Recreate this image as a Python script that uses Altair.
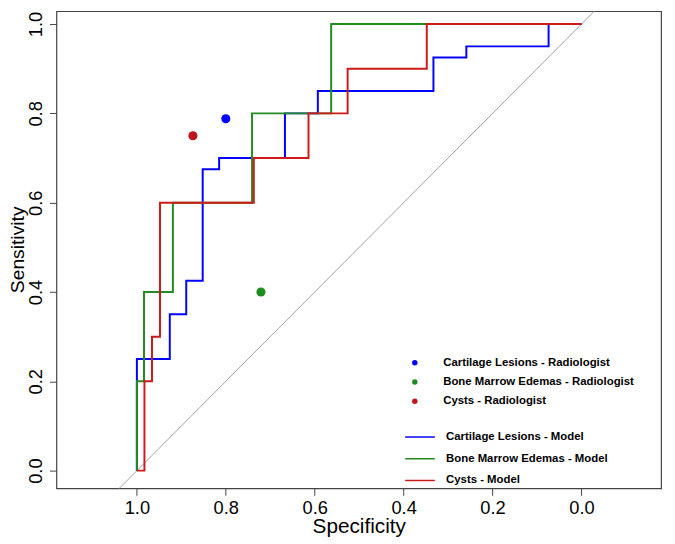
import altair as alt
import pandas as pd

# ---- data ----
series_names = ["Cartilage Lesions", "Bone Marrow Edemas", "Cysts"]

cart_spec = [1.0, 1.0, 0.926, 0.926, 0.889, 0.889, 0.852, 0.852, 0.815, 0.815,
             0.667, 0.667, 0.593, 0.593, 0.333, 0.333, 0.259, 0.259, 0.074, 0.074, 0.0]
cart_sens = [0.0, 0.25, 0.25, 0.35, 0.35, 0.425, 0.425, 0.675, 0.675, 0.70,
             0.70, 0.80, 0.80, 0.85, 0.85, 0.925, 0.925, 0.95, 0.95, 1.0, 1.0]

bme_spec = [1.0, 1.0, 0.984, 0.984, 0.919, 0.919, 0.741, 0.741, 0.563, 0.563, 0.0]
bme_sens = [0.0, 0.2, 0.2, 0.4, 0.4, 0.6, 0.6, 0.8, 0.8, 1.0, 1.0]

cyst_spec = [1.0, 0.983, 0.983, 0.966, 0.966, 0.948, 0.948, 0.737, 0.737,
             0.614, 0.614, 0.526, 0.526, 0.348, 0.348, 0.0]
cyst_sens = [0.0, 0.0, 0.2, 0.2, 0.3, 0.3, 0.6, 0.6, 0.7, 0.7,
             0.8, 0.8, 0.9, 0.9, 1.0, 1.0]

rad_spec = [0.80, 0.721, 0.874]
rad_sens = [0.788, 0.40, 0.75]

diag_spec = [1.3, -0.3]
diag_sens = [-0.3, 1.3]

tick_values = [1.0, 0.8, 0.6, 0.4, 0.2, 0.0]

line_colors = ["#0000FF", "#228B22", "#CD1A1A"]
point_colors = ["#0000FF", "#1E8C1E", "#C0141C"]

# ---- tables ----
model_labels = [n + " - Model" for n in series_names]
rad_labels = [n + " - Radiologist" for n in series_names]

rows = []
for lab, sp, se in zip(model_labels, [cart_spec, bme_spec, cyst_spec],
                       [cart_sens, bme_sens, cyst_sens]):
    for i, (a, b) in enumerate(zip(sp, se)):
        rows.append({"series": lab, "spec": a, "sens": b, "order": i})
model_df = pd.DataFrame(rows)

rad_df = pd.DataFrame({"series": rad_labels, "spec": rad_spec, "sens": rad_sens})
diag_df = pd.DataFrame({"spec": diag_spec, "sens": diag_sens})

FONT = "Liberation Sans"
x_scale = alt.Scale(domain=[1.181, -0.179], nice=False, zero=False)
y_scale = alt.Scale(domain=[-0.0398, 1.0288], nice=False, zero=False)

x_axis = alt.Axis(values=tick_values, format=".1f", domain=False, grid=False,
                  tickSize=7, tickColor="#444444", labelFont=FONT, labelFontSize=18.5,
                  labelColor="black", labelPadding=3, title="Specificity",
                  titleFont=FONT, titleFontSize=21, titleFontWeight="normal",
                  titleColor="black", titleBaseline="alphabetic", titleY=45)
y_axis = alt.Axis(values=tick_values, format=".1f", domain=False, grid=False,
                  tickSize=7, tickColor="#444444", labelFont=FONT, labelFontSize=18.5,
                  labelColor="black", labelAngle=270, labelAlign="center",
                  labelBaseline="middle", labelPadding=14, title="Sensitivity",
                  titleFont=FONT, titleFontSize=19.5, titleFontWeight="normal",
                  titleColor="black", titleAngle=270, titleAlign="center",
                  titleBaseline="middle", titleX=-39, titleY=241)

diag = alt.Chart(diag_df).mark_line(color="#A0A0A0", strokeWidth=1, clip=True).encode(
    x=alt.X("spec:Q", scale=x_scale, axis=x_axis),
    y=alt.Y("sens:Q", scale=y_scale, axis=y_axis),
)

lines = alt.Chart(model_df).mark_line(strokeWidth=2, clip=True).encode(
    x=alt.X("spec:Q", scale=x_scale),
    y=alt.Y("sens:Q", scale=y_scale),
    order="order:Q",
    color=alt.Color("series:N", scale=alt.Scale(domain=model_labels, range=line_colors),
                    legend=alt.Legend(title=None, orient="none", legendX=352, legendY=415,
                                      symbolType="stroke", symbolSize=900,
                                      symbolStrokeWidth=1.5, labelFont=FONT,
                                      labelFontSize=11.5, labelFontWeight="bold",
                                      labelColor="black", labelOffset=10.4,
                                      labelLimit=0, rowPadding=-15, padding=0)),
)

points = alt.Chart(rad_df).mark_circle(size=85, opacity=1).encode(
    x=alt.X("spec:Q", scale=x_scale),
    y=alt.Y("sens:Q", scale=y_scale),
    color=alt.Color("series:N", scale=alt.Scale(domain=rad_labels, range=point_colors),
                    legend=alt.Legend(title=None, orient="none", legendX=357, legendY=350,
                                      symbolType="circle", symbolSize=30,
                                      labelFont=FONT, labelFontSize=11.5,
                                      labelFontWeight="bold", labelColor="black",
                                      labelOffset=23, labelLimit=0, rowPadding=6.5,
                                      padding=0)),
)

chart = alt.layer(diag, lines, points).resolve_scale(color="independent").properties(
    width=612, height=483,
    autosize=alt.AutoSizeParams(type="none"),
    padding={"left": 49, "top": 0, "right": 6, "bottom": 50},
).configure_view(stroke="#444444", strokeWidth=1.2)

chart.save("out.html", embed_options={"renderer": "svg", "actions": False})
